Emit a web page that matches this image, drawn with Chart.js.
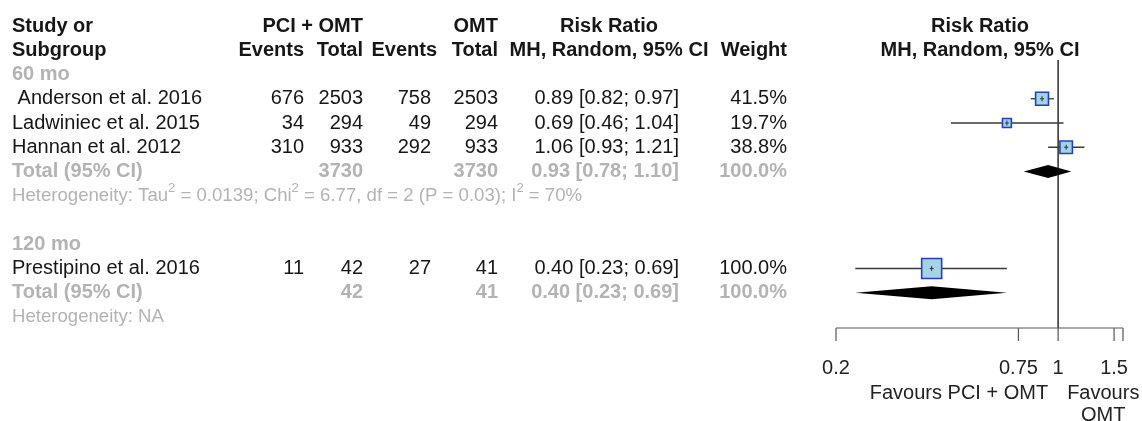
<!DOCTYPE html>
<html>
<head>
<meta charset="utf-8">
<script src="https://cdn.jsdelivr.net/npm/chart.js@4.4.1/dist/chart.umd.min.js"></script>
<style>
  html, body { margin: 0; padding: 0; background: #ffffff; }
  canvas { display: block; }
</style>
</head>
<body>
<canvas id="forest" width="1142" height="421"></canvas>
<script>
// ---- study data ----
const studies    = [" Anderson et al. 2016", "Ladwiniec et al. 2015", "Hannan et al. 2012", "Prestipino et al. 2016"];
const studyGroup = [0, 0, 0, 1];
const pciEvents  = [676, 34, 310, 11];
const pciTotal   = [2503, 294, 933, 42];
const omtEvents  = [758, 49, 292, 27];
const omtTotal   = [2503, 294, 933, 41];
const rr         = [0.89, 0.69, 1.06, 0.40];
const rrLower    = [0.82, 0.46, 0.93, 0.23];
const rrUpper    = [0.97, 1.04, 1.21, 0.69];
const weights    = [41.5, 19.7, 38.8, 100.0];

// ---- subgroup (pooled) data ----
const subgroups     = ["60 mo", "120 mo"];
const groupPciTotal = [3730, 42];
const groupOmtTotal = [3730, 41];
const groupRR       = [0.93, 0.40];
const groupLower    = [0.78, 0.23];
const groupUpper    = [1.10, 0.69];
const groupWeight   = [100.0, 100.0];
// heterogeneity text: [text, isSuperscript]
const groupHet = [
  [["Heterogeneity: Tau", 0], ["2", 1], [" = 0.0139; Chi", 0], ["2", 1], [" = 6.77, df = 2 (P = 0.03); I", 0], ["2", 1], [" = 70%", 0]],
  [["Heterogeneity: NA", 0]]
];

// ---- axis ----
const xTicks      = [0.2, 0.75, 1, 1.5];
const xTickLabels = ["0.2", "0.75", "1", "1.5"];
const xMin = 0.2, xMax = 1.6;
const labelLeft  = "Favours PCI + OMT";
const labelRight = ["Favours", "OMT"];

// ---- layout ----
const FONT = "'Liberation Sans', Arial, Helvetica, sans-serif";
const ROW0 = 26, ROW_H = 24.25;           // y of first header line, row pitch
const PLOT_TOP = 60, PLOT_BOTTOM = 328;   // reference line extent / axis line
const PLOT_LEFT = 836, PLOT_RIGHT = 1123;
const COL = { name: 12, pciEv: 304, pciTot: 363, omtEvHead: 437, omtEv: 431, omtTot: 498, ci: 679, ciHead: 609, weight: 787, plotHead: 980 };
const BLACK = '#161616', GRAY = '#b3b3b3';
const HET_SIZE = 18.6;

// assign rows: header(0,1), then per subgroup: title, studies, total, heterogeneity, blank
const studyRow = [], groupTitleRow = [], groupTotalRow = [], groupHetRow = [];
let r = 2;
subgroups.forEach((g, gi) => {
  groupTitleRow[gi] = r++;
  studies.forEach((s, i) => { if (studyGroup[i] === gi) studyRow[i] = r++; });
  groupTotalRow[gi] = r++;
  groupHetRow[gi] = r++;
  r++;
});

const fmtCI = (e, l, u) => e.toFixed(2) + " [" + l.toFixed(2) + "; " + u.toFixed(2) + "]";
const fmtW = w => w.toFixed(1) + "%";

// square side grows with sqrt of weight
const maxSide = 20;
const squareRadius = weights.map(w => maxSide * Math.sqrt(w / 100) / Math.SQRT2);

function drawText(ctx, s, x, y, align, bold, color, size) {
  ctx.font = (bold ? 'bold ' : '') + size + 'px ' + FONT;
  ctx.fillStyle = color;
  ctx.textAlign = align;
  ctx.textBaseline = 'middle';
  ctx.fillText(s, x, y);
}

function drawRich(ctx, parts, x, y, color, size) {
  ctx.fillStyle = color;
  ctx.textAlign = 'left';
  ctx.textBaseline = 'middle';
  let cx = x;
  parts.forEach(([s, sup]) => {
    const fs = sup ? size * 0.7 : size;
    ctx.font = fs + 'px ' + FONT;
    ctx.fillText(s, cx, sup ? y - size * 0.4 : y);
    cx += ctx.measureText(s).width;
  });
}

const forestDecor = {
  id: 'forestDecor',
  beforeDatasetsDraw(chart) {
    const { ctx, chartArea, scales: { x } } = chart;
    ctx.save();
    // line of no effect
    const x1 = x.getPixelForValue(1);
    ctx.strokeStyle = '#3a3a3a';
    ctx.lineWidth = 1.6;
    ctx.beginPath();
    ctx.moveTo(x1, chartArea.top);
    ctx.lineTo(x1, chartArea.bottom);
    ctx.stroke();
    // x axis with ticks
    ctx.strokeStyle = '#555555';
    ctx.lineWidth = 1.2;
    const ay = chartArea.bottom;
    ctx.beginPath();
    ctx.moveTo(x.getPixelForValue(xMin), ay);
    ctx.lineTo(x.getPixelForValue(xMax), ay);
    xTicks.concat([xMax]).forEach(v => {
      const px = x.getPixelForValue(v);
      ctx.moveTo(px, ay);
      ctx.lineTo(px, ay + 13);
    });
    ctx.stroke();
    xTicks.forEach((v, i) => drawText(ctx, xTickLabels[i], x.getPixelForValue(v), 368, 'center', false, '#222222', 20));
    // direction labels
    drawText(ctx, labelLeft, x1 - 10, 393, 'right', false, '#222222', 20);
    drawText(ctx, labelRight[0], x1 + 9, 393, 'left', false, '#222222', 20);
    ctx.font = '20px ' + FONT;
    const wFav = ctx.measureText(labelRight[0]).width;
    drawText(ctx, labelRight[1], x1 + 9 + wFav / 2, 415, 'center', false, '#222222', 20);
    ctx.restore();
  },
  afterDatasetsDraw(chart) {
    const { ctx, scales: { x, y } } = chart;
    ctx.save();
    // estimate marks inside squares
    ctx.strokeStyle = '#333333';
    ctx.lineWidth = 1;
    rr.forEach((v, i) => {
      const px = x.getPixelForValue(v), py = y.getPixelForValue(studyRow[i]);
      ctx.beginPath();
      ctx.moveTo(px, py - 2.5); ctx.lineTo(px, py + 2.5);
      ctx.moveTo(px - 2, py); ctx.lineTo(px + 2, py);
      ctx.stroke();
    });
    // pooled diamonds
    ctx.fillStyle = '#000000';
    groupRR.forEach((v, gi) => {
      const py = y.getPixelForValue(groupTotalRow[gi]);
      const h = 6.5;
      ctx.beginPath();
      ctx.moveTo(x.getPixelForValue(groupLower[gi]), py);
      ctx.lineTo(x.getPixelForValue(v), py - h);
      ctx.lineTo(x.getPixelForValue(groupUpper[gi]), py);
      ctx.lineTo(x.getPixelForValue(v), py + h);
      ctx.closePath();
      ctx.fill();
    });

    // ---- table text ----
    const rowY = k => y.getPixelForValue(k);
    // headers
    drawText(ctx, "Study or", COL.name, rowY(0), 'left', true, BLACK, 20);
    drawText(ctx, "Subgroup", COL.name, rowY(1), 'left', true, BLACK, 20);
    drawText(ctx, "PCI + OMT", COL.pciTot, rowY(0), 'right', true, BLACK, 20);
    drawText(ctx, "OMT", COL.omtTot, rowY(0), 'right', true, BLACK, 20);
    drawText(ctx, "Risk Ratio", COL.ciHead, rowY(0), 'center', true, BLACK, 20);
    drawText(ctx, "Events", COL.pciEv, rowY(1), 'right', true, BLACK, 20);
    drawText(ctx, "Total", COL.pciTot, rowY(1), 'right', true, BLACK, 20);
    drawText(ctx, "Events", COL.omtEvHead, rowY(1), 'right', true, BLACK, 20);
    drawText(ctx, "Total", COL.omtTot, rowY(1), 'right', true, BLACK, 20);
    drawText(ctx, "MH, Random, 95% CI", COL.ciHead, rowY(1), 'center', true, BLACK, 20);
    drawText(ctx, "Weight", COL.weight, rowY(1), 'right', true, BLACK, 20);
    drawText(ctx, "Risk Ratio", COL.plotHead, rowY(0), 'center', true, BLACK, 20);
    drawText(ctx, "MH, Random, 95% CI", COL.plotHead, rowY(1), 'center', true, BLACK, 20);

    // study rows
    studies.forEach((s, i) => {
      const yy = rowY(studyRow[i]);
      drawText(ctx, s, COL.name, yy, 'left', false, BLACK, 20);
      drawText(ctx, String(pciEvents[i]), COL.pciEv, yy, 'right', false, BLACK, 20);
      drawText(ctx, String(pciTotal[i]), COL.pciTot, yy, 'right', false, BLACK, 20);
      drawText(ctx, String(omtEvents[i]), COL.omtEv, yy, 'right', false, BLACK, 20);
      drawText(ctx, String(omtTotal[i]), COL.omtTot, yy, 'right', false, BLACK, 20);
      drawText(ctx, fmtCI(rr[i], rrLower[i], rrUpper[i]), COL.ci, yy, 'right', false, BLACK, 20);
      drawText(ctx, fmtW(weights[i]), COL.weight, yy, 'right', false, BLACK, 20);
    });

    // subgroup titles, totals and heterogeneity
    subgroups.forEach((g, gi) => {
      drawText(ctx, g, COL.name, rowY(groupTitleRow[gi]), 'left', true, GRAY, 20);
      const ty = rowY(groupTotalRow[gi]);
      drawText(ctx, "Total (95% CI)", COL.name, ty, 'left', true, GRAY, 20);
      drawText(ctx, String(groupPciTotal[gi]), COL.pciTot, ty, 'right', true, GRAY, 20);
      drawText(ctx, String(groupOmtTotal[gi]), COL.omtTot, ty, 'right', true, GRAY, 20);
      drawText(ctx, fmtCI(groupRR[gi], groupLower[gi], groupUpper[gi]), COL.ci, ty, 'right', true, GRAY, 20);
      drawText(ctx, fmtW(groupWeight[gi]), COL.weight, ty, 'right', true, GRAY, 20);
      drawRich(ctx, groupHet[gi], COL.name, rowY(groupHetRow[gi]), GRAY, HET_SIZE);
    });
    ctx.restore();
  }
};

const squareData = rr.map((v, i) => ({ x: v, y: studyRow[i] }));
const ciDatasets = rr.map((v, i) => ({
  type: 'line',
  data: [{ x: rrLower[i], y: studyRow[i] }, { x: rrUpper[i], y: studyRow[i] }],
  borderColor: '#3a3a3a',
  borderWidth: 1.3,
  pointRadius: 0,
  showLine: true,
  clip: false
}));

new Chart(document.getElementById('forest'), {
  type: 'scatter',
  data: {
    datasets: [{
      data: squareData,
      pointStyle: 'rect',
      pointRadius: squareRadius,
      backgroundColor: '#a2d3e6',
      borderColor: '#2640bd',
      borderWidth: 1.6,
      clip: false
    }].concat(ciDatasets)
  },
  options: {
    responsive: false,
    animation: false,
    events: [],
    layout: { padding: { left: PLOT_LEFT, right: 1142 - PLOT_RIGHT, top: PLOT_TOP, bottom: 421 - PLOT_BOTTOM } },
    plugins: { legend: { display: false }, tooltip: { enabled: false } },
    scales: {
      x: { type: 'logarithmic', min: xMin, max: xMax, display: false },
      y: {
        type: 'linear', reverse: true, display: false,
        min: (PLOT_TOP - ROW0) / ROW_H,
        max: (PLOT_BOTTOM - ROW0) / ROW_H
      }
    }
  },
  plugins: [forestDecor]
});
</script>
</body>
</html>
